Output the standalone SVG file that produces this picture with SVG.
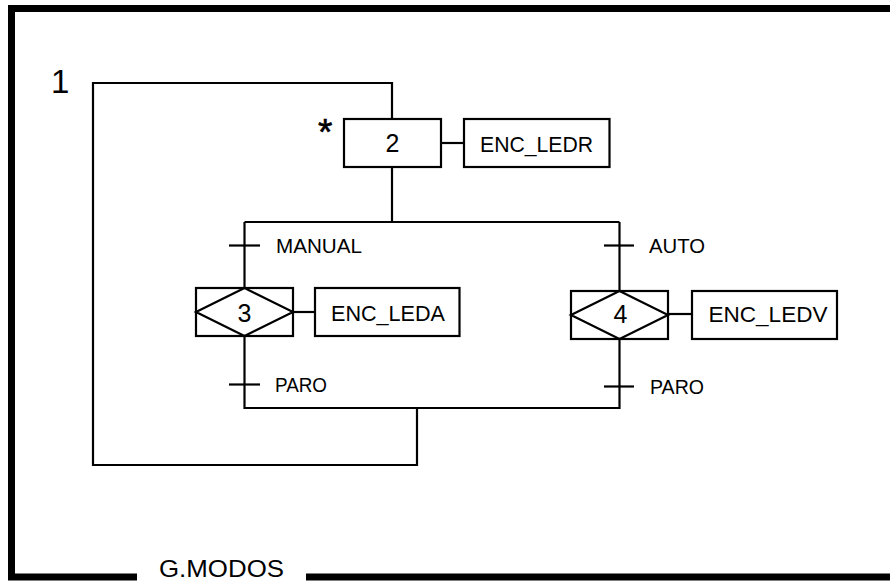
<svg xmlns="http://www.w3.org/2000/svg" width="890" height="582" viewBox="0 0 890 582">
<style>
.ln{fill:none;stroke:#000;stroke-width:2.2}
.bx{fill:#fff;stroke:#000;stroke-width:2.2}
.t{font-family:"Liberation Sans",Arial,sans-serif;fill:#000}
.lab{font-size:20px}
.act{font-size:22px}
.num{font-size:25px}
</style>
<rect width="890" height="582" fill="#fff"/>
<g id="frame">
<path d="M137,577 H11.5 V8.5 H895" fill="none" stroke="#000" stroke-width="7"/>
<path d="M306,577 H895" fill="none" stroke="#000" stroke-width="7"/>
<text class="t" x="159" y="577" font-size="24" textLength="125" lengthAdjust="spacingAndGlyphs">G.MODOS</text>
<text class="t" x="51" y="93" font-size="33">1</text>
</g>
<g id="connectors">
<path class="ln" d="M417,408 V465 H93 V83 H392 V119"/>
<path class="ln" d="M392,167 V222"/>
<path class="ln" d="M244.5,222 H619.5"/>
<path class="ln" d="M244.5,222 V288"/>
<path class="ln" d="M619.5,222 V291"/>
<path class="ln" d="M244.5,336 V408 H619.5 V339"/>
<path class="ln" d="M441,143 H464"/>
<path class="ln" d="M293,312 H315"/>
<path class="ln" d="M668,314 H692"/>
</g>
<g id="t_manual">
<path class="ln" d="M229,245.5 H260"/>
<text class="t lab" x="276" y="253" textLength="86" lengthAdjust="spacingAndGlyphs">MANUAL</text>
</g>
<g id="t_auto">
<path class="ln" d="M604,245.5 H634"/>
<text class="t lab" x="649" y="253" textLength="56" lengthAdjust="spacingAndGlyphs">AUTO</text>
</g>
<g id="t_paro3">
<path class="ln" d="M229,384.5 H260"/>
<text class="t lab" x="275" y="391.5" textLength="52" lengthAdjust="spacingAndGlyphs">PARO</text>
</g>
<g id="t_paro4">
<path class="ln" d="M604,386.5 H634"/>
<text class="t lab" x="650" y="394" textLength="54" lengthAdjust="spacingAndGlyphs">PARO</text>
</g>
<g id="step2">
<rect class="bx" x="344" y="119" width="97" height="48"/>
<text class="t num" x="392.5" y="152" text-anchor="middle">2</text>
<text class="t" x="318" y="144.5" font-size="37" stroke="#000" stroke-width="0.6">*</text>
</g>
<g id="act2">
<rect class="bx" x="464" y="119" width="145.5" height="48"/>
<text class="t act" x="480" y="151.5" textLength="113" lengthAdjust="spacingAndGlyphs">ENC_LEDR</text>
</g>
<g id="step3">
<rect class="bx" x="196" y="288" width="97" height="48"/>
<path class="ln" d="M196,312 L244.5,288 L293,312 L244.5,336 Z"/>
<text class="t num" x="244.5" y="321.5" text-anchor="middle">3</text>
</g>
<g id="act3">
<rect class="bx" x="315" y="288" width="144.5" height="48"/>
<text class="t act" x="331" y="320.5" textLength="114" lengthAdjust="spacingAndGlyphs">ENC_LEDA</text>
</g>
<g id="step4">
<rect class="bx" x="571" y="291" width="97" height="48"/>
<path class="ln" d="M571,315 L619.5,291 L668,315 L619.5,339 Z"/>
<text class="t num" x="620.5" y="323.3" text-anchor="middle">4</text>
</g>
<g id="act4">
<rect class="bx" x="692" y="291" width="145" height="48"/>
<text class="t act" x="708.5" y="322.3" textLength="119" lengthAdjust="spacingAndGlyphs">ENC_LEDV</text>
</g>
</svg>
